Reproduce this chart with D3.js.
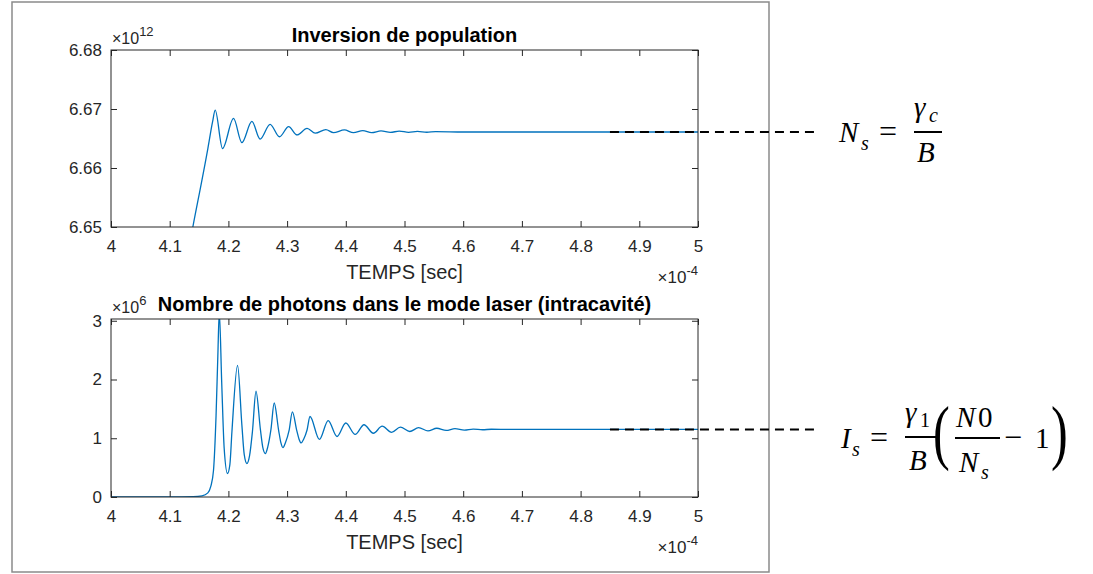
<!DOCTYPE html>
<html><head><meta charset="utf-8">
<script src="https://cdn.jsdelivr.net/npm/d3@7"></script>
<style>body{margin:0;background:#fff} svg{display:block}</style>
</head><body>
<svg id="c" width="1093" height="574"></svg>
<script>
// ---------- data ----------
const xTicks = [4, 4.1, 4.2, 4.3, 4.4, 4.5, 4.6, 4.7, 4.8, 4.9, 5];
const xTickLabels = ["4", "4.1", "4.2", "4.3", "4.4", "4.5", "4.6", "4.7", "4.8", "4.9", "5"];
const invTicks = [6.65, 6.66, 6.67, 6.68];
const invTickLabels = ["6.65", "6.66", "6.67", "6.68"];
const photTicks = [0, 1, 2, 3];
const photTickLabels = ["0", "1", "2", "3"];

// time in units of 1e-4 s, inversion in units of 1e12
const timeInv = [4.00, 4.10, 4.1394, 4.165, 4.173, 4.1775, 4.190, 4.2087, 4.223, 4.240, 4.254, 4.271, 4.287,
  4.3026, 4.317, 4.334, 4.348, 4.366, 4.379, 4.3976, 4.413, 4.429, 4.444, 4.460, 4.476, 4.491, 4.507,
  4.522, 4.538, 4.553, 4.60, 4.70, 4.80, 5.00];
const inversion = [6.5790, 6.6295, 6.6500, 6.6633, 6.6678, 6.6698, 6.6633, 6.6684, 6.6643, 6.6679, 6.6649, 6.6674, 6.6653,
  6.6670, 6.6656, 6.6667, 6.6659, 6.6665, 6.6660, 6.66645, 6.66598, 6.66635, 6.66600, 6.66628, 6.66604, 6.66625, 6.66605,
  6.66620, 6.66606, 6.66616, 6.66610, 6.66610, 6.66610, 6.66610];

// time in units of 1e-4 s, photons in units of 1e6
const timePhot = [4.00, 4.10, 4.14, 4.155, 4.165, 4.170, 4.1746, 4.179, 4.182, 4.1845,
  4.1886, 4.1928, 4.1985, 4.2025, 4.206, 4.2156,
  4.223, 4.227, 4.2315, 4.236, 4.241, 4.247,
  4.2545, 4.2585, 4.263, 4.267, 4.2725, 4.278,
  4.2855, 4.2895, 4.293, 4.297, 4.3035, 4.309,
  4.3165, 4.3205, 4.324, 4.328, 4.334, 4.339,
  4.355, 4.370, 4.385, 4.400, 4.416, 4.431, 4.447, 4.462,
  4.478, 4.493, 4.509, 4.524, 4.540, 4.555, 4.571, 4.586, 4.602, 4.617, 4.633, 4.648, 4.68, 4.80, 5.00];
const photons = [0.000, 0.001, 0.006, 0.02, 0.07, 0.18, 0.45, 1.39, 2.40, 3.15,
  1.95, 0.83, 0.40, 0.55, 1.11, 2.24,
  1.22, 0.72, 0.57, 0.70, 1.12, 1.80,
  1.15, 0.85, 0.74, 0.85, 1.15, 1.60,
  1.14, 0.92, 0.84, 0.92, 1.14, 1.45,
  1.13, 0.98, 0.92, 0.98, 1.14, 1.37,
  0.98, 1.30, 1.03, 1.26, 1.065, 1.23, 1.085, 1.205,
  1.10, 1.19, 1.115, 1.18, 1.125, 1.17, 1.133, 1.163, 1.14, 1.157, 1.145, 1.153, 1.15, 1.15, 1.15];

const steadyInv = 6.6661;
const steadyPhot = 1.15;
const dashStart = 4.85;

const titles = ["Inversion de population", "Nombre de photons dans le mode laser (intracavité)"];
const xLabel = "TEMPS [sec]";

// ---------- layout ----------
const svg = d3.select("#c");
const L = 111, R = 698;
const panels = [
  {top: 50, bottom: 227, domain: [6.65, 6.68], ticks: invTicks, labels: invTickLabels, exp: "12",
   t: timeInv, v: inversion, steady: steadyInv, title: titles[0]},
  {top: 319, bottom: 497, domain: [0, 3.03], ticks: photTicks, labels: photTickLabels, exp: "6",
   t: timePhot, v: photons, steady: steadyPhot, title: titles[1]}
];
const textCol = "#262626";
const sans = "'Liberation Sans', Arial, sans-serif";
const tickFont = "17px " + sans;

// outer frame
svg.append("rect").attr("x", 12).attr("y", 2).attr("width", 757).attr("height", 570)
  .attr("fill", "none").attr("stroke", "#8a8a8a").attr("stroke-width", 1.5);

const x = d3.scaleLinear().domain([4, 5]).range([L, R]);

panels.forEach((p, i) => {
  const y = d3.scaleLinear().domain(p.domain).range([p.bottom, p.top]);
  const g = svg.append("g");
  const clipId = "clip" + i;
  svg.append("clipPath").attr("id", clipId).append("rect")
    .attr("x", L).attr("y", p.top).attr("width", R - L).attr("height", p.bottom - p.top);

  // line
  const data = p.t.map((t, k) => [t, p.v[k]]);
  g.append("path").datum(data)
    .attr("clip-path", `url(#${clipId})`)
    .attr("fill", "none").attr("stroke", "#0072bd").attr("stroke-width", 1.3)
    .attr("d", d3.line().x(d => x(d[0])).y(d => y(d[1])).curve(d3.curveMonotoneX));

  // axes
  const fmtX = d => xTickLabels[xTicks.indexOf(d)];
  const fmtY = d => p.labels[p.ticks.indexOf(d)];
  const ax = g.append("g").attr("transform", `translate(0,${p.bottom})`)
    .call(d3.axisBottom(x).tickValues(xTicks).tickFormat(fmtX).tickSizeInner(-6).tickSizeOuter(0).tickPadding(13));
  const axT = g.append("g").attr("transform", `translate(0,${p.top})`)
    .call(d3.axisTop(x).tickValues(xTicks).tickFormat("").tickSizeInner(-6).tickSizeOuter(0));
  const ay = g.append("g").attr("transform", `translate(${L},0)`)
    .call(d3.axisLeft(y).tickValues(p.ticks).tickFormat(fmtY).tickSizeInner(-6).tickSizeOuter(0).tickPadding(9));
  const ayR = g.append("g").attr("transform", `translate(${R},0)`)
    .call(d3.axisRight(y).tickValues(p.ticks).tickFormat("").tickSizeInner(-6).tickSizeOuter(0));
  [ax, axT, ay, ayR].forEach(a => {
    a.select(".domain").remove();
    a.selectAll("line").attr("stroke", textCol).attr("stroke-width", 1);
    a.selectAll("text").style("font", tickFont).attr("fill", textCol);
  });
  g.append("rect").attr("x", L).attr("y", p.top).attr("width", R - L).attr("height", p.bottom - p.top)
    .attr("fill", "none").attr("stroke", textCol).attr("stroke-width", 1);

  // exponent label (y)
  const ey = g.append("text").attr("x", 112).attr("y", p.top - 6).attr("fill", textCol)
    .style("font", "16px " + sans);
  ey.append("tspan").text("×10");
  ey.append("tspan").attr("dy", -8).style("font-size", "13px").text(p.exp);

  // exponent label (x)
  const ex = g.append("text").attr("x", R).attr("y", p.bottom + 56).attr("fill", textCol)
    .attr("text-anchor", "end").style("font", "17px " + sans);
  ex.append("tspan").text("×10");
  ex.append("tspan").attr("dy", -8).style("font-size", "13px").text("-4");

  // x label
  g.append("text").attr("x", (L + R) / 2).attr("y", p.bottom + 52).attr("text-anchor", "middle")
    .attr("fill", textCol).style("font", "20px " + sans).text(xLabel);

  // title
  g.append("text").attr("x", (L + R) / 2).attr("y", p.top - 8).attr("text-anchor", "middle")
    .attr("fill", "#000").style("font", "bold 20px " + sans).text(p.title);

  // dashed steady-state annotation
  svg.append("line").attr("x1", x(dashStart)).attr("x2", x(dashStart) + 204)
    .attr("y1", y(p.steady)).attr("y2", y(p.steady))
    .attr("stroke", "#000").attr("stroke-width", 2).attr("stroke-dasharray", "9,6");
});

// ---------- equations ----------
const serif = "'Liberation Serif', 'Times New Roman', serif";
function t(xp, yp, str, size, italic, extra) {
  const e = svg.append("text").attr("x", xp).attr("y", yp).attr("fill", "#000")
    .style("font-family", serif).style("font-size", size + "px")
    .style("font-style", italic ? "italic" : "normal").text(str);
  if (extra) extra(e);
  return e;
}
function bar(x1, x2, yy) {
  svg.append("line").attr("x1", x1).attr("x2", x2).attr("y1", yy).attr("y2", yy)
    .attr("stroke", "#000").attr("stroke-width", 2);
}
// N_s = gamma_c / B
t(839, 142, "N", 29, true);
t(861, 150, "s", 20, true);
t(879, 142, "=", 32, false);
t(914, 117, "γ", 29, true);
t(929, 122, "c", 20, true);
bar(914, 942, 132);
t(917, 162, "B", 29, true);

// I_s = gamma_1/B (N0/N_s - 1)
t(841, 448, "I", 29, true);
t(852, 456, "s", 20, true);
t(870, 448, "=", 32, false);
t(905, 422, "γ", 29, true);
t(920, 427, "1", 20, false);
bar(905, 936, 437);
t(909, 470, "B", 29, true);
t(0, 0, "(", 72, false, e => e.attr("transform", "translate(933,456) scale(0.7,1)"));
t(956, 427, "N", 29, true);
t(978, 427, "0", 29, false);
bar(955, 1000, 438);
t(959, 472, "N", 29, true);
t(981, 479, "s", 20, true);
t(1004, 448, "−", 32, false);
t(1035, 448, "1", 29, false);
t(0, 0, ")", 72, false, e => e.attr("transform", "translate(1051,456) scale(0.7,1)"));
</script>
</body></html>
